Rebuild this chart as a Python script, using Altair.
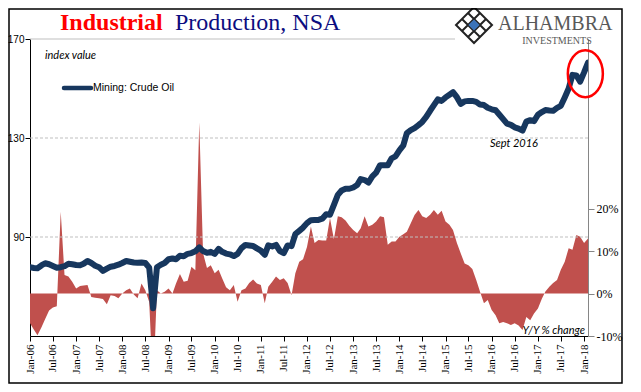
import altair as alt
import pandas as pd

# ---------------- data (monthly, Jan-2006 .. Feb-2018) ----------------
months = [f"{2006 + i // 12}/{i % 12 + 1:02d}/01" for i in range(146)]

crude_oil_index = [
    # 2006
    77.8, 77.5, 77.4, 78.5, 79.4, 79.0, 78.3, 77.6, 77.8, 78.2, 79.2, 79.0,
    # 2007
    78.7, 78.6, 79.2, 80.3, 79.5, 78.4, 77.8, 76.3, 77.2, 78.0, 78.3, 78.8,
    # 2008
    79.5, 80.3, 80.0, 79.7, 79.6, 79.7, 79.5, 77.6, 61.2, 77.8, 78.8, 79.5,
    # 2009
    81.0, 81.3, 81.0, 82.4, 82.2, 83.2, 83.5, 84.2, 85.8, 84.3, 83.6, 84.0,
    # 2010
    83.2, 85.2, 84.0, 83.3, 83.0, 82.3, 83.2, 85.5, 86.8, 86.6, 86.4, 85.4,
    # 2011
    84.5, 82.8, 86.6, 86.2, 86.8, 84.3, 83.5, 86.6, 86.3, 91.2, 92.5, 93.8,
    # 2012
    95.6, 96.8, 96.9, 96.9, 97.4, 99.2, 99.0, 103.0, 107.0, 108.8, 109.5, 109.5,
    # 2013
    110.0, 111.0, 113.4, 113.0, 112.0, 114.5, 116.0, 119.0, 119.0, 119.0, 121.8, 122.6,
    # 2014
    125.0, 127.0, 132.0, 133.2, 134.0, 135.2, 136.5, 138.5, 141.0, 143.3, 145.6, 145.0,
    # 2015
    146.4, 147.5, 148.5, 146.5, 143.8, 144.8, 145.0, 145.0, 144.6, 143.5, 143.3, 142.2,
    # 2016
    141.6, 141.2, 139.5, 137.6, 135.8, 135.3, 134.3, 133.8, 133.0, 136.6, 137.2, 136.8,
    # 2017
    139.4, 140.5, 141.3, 141.1, 141.0, 142.2, 143.0, 146.4, 150.0, 155.5, 155.3, 152.8,
    # 2018
    156.5, 160.5,
]

yoy_pct = [
    # 2006
    -7.0, -8.5, -9.8, -8.0, -6.0, -4.0, -3.3, -3.0, 19.3, 4.4, 4.0, 2.8,
    # 2007
    1.2, 1.8, 1.9, 2.0, -0.8, -1.0, -1.1, -1.3, -2.5, -0.4, -0.6, -1.1,
    # 2008
    0.0, 0.8, 1.2, -0.2, -1.1, 2.4, 0.8, -2.0, -22.0, 0.8, 0.0, 0.4,
    # 2009
    1.2, 0.0, 2.4, 4.6, 2.8, 3.0, 6.3, 5.5, 40.3, 9.5, 6.0, 6.7,
    # 2010
    4.8, 5.6, 3.6, 1.5, 0.8, 2.0, -1.9, 0.8, 1.2, 2.5, 3.3, 2.4,
    # 2011
    2.0, -2.3, 1.6, 2.8, 4.0, 3.2, 3.6, 2.5, -0.4, 4.8, 7.5, 8.1,
    # 2012
    11.0, 15.8, 11.9, 12.6, 12.5, 12.5, 17.8, 12.8, 18.2, 18.0, 17.2, 16.0,
    # 2013
    15.0, 14.2, 15.4, 18.2, 15.8, 16.2, 17.0, 18.2, 18.0, 11.5, 12.3, 12.3,
    # 2014
    13.4, 14.0, 14.6, 16.6, 18.5, 19.7, 18.2, 17.8, 18.6, 19.7, 18.6, 19.5,
    # 2015
    17.0, 16.2, 15.0, 11.9, 9.5, 7.1, 6.7, 5.8, 3.2, 0.4, -2.3, -1.5,
    # 2016
    -3.9, -5.1, -7.0, -6.7, -7.0, -7.4, -7.0, -7.5, -8.6, -5.5, -6.3, -4.7,
    # 2017
    -3.5, -1.2, 0.5, 1.6, 2.5, 3.2, 5.6, 7.5, 10.7, 10.3, 13.8, 13.4,
    # 2018
    11.9, 13.0,
]

left_ticks = [90, 130, 170]
grid_values = [90, 130]
right_ticks = [-10, 0, 10, 20]
x_tick_years = list(range(2006, 2019))

annotations_date = ["2018/01/11", "2016/06/25"]
annotations_value = [156.0, 127.5]

df = pd.DataFrame({"date": months, "index": crude_oil_index, "pct": yoy_pct})

NAVY = "#17375E"
RED_AREA = "#C0504D"

x_ticks = []
for y in x_tick_years:
    x_ticks.append(alt.DateTime(year=y, month=1, date=1))
    if y < 2018:
        x_ticks.append(alt.DateTime(year=y, month=7, date=1))

x_enc = alt.X(
    "date:T",
    title=None,
    scale=alt.Scale(domain=[alt.DateTime(year=2006, month=1, date=1),
                            alt.DateTime(year=2018, month=2, date=1)]),
    axis=alt.Axis(values=x_ticks, format="%b-%y", labelAngle=270,
                  labelFont="Liberation Serif", labelFontSize=11, labelColor="black",
                  labelPadding=3, tickSize=5, tickColor="black", domainColor="black",
                  grid=False, labelOverlap=False, labelFlush=False),
)

left_axis = alt.Axis(orient="left", values=left_ticks, grid=False,
                     labelFont="Liberation Sans", labelFontSize=10, labelColor="black",
                     labelPadding=1, tickSize=5, tickColor="black", domainColor="black")
left_scale = alt.Scale(domain=[50, 170], nice=False, zero=False)

right_axis = alt.Axis(orient="right", values=right_ticks, grid=False,
                      labelExpr="datum.value + '%'",
                      labelFont="Liberation Serif", labelFontSize=12, labelColor="black",
                      labelPadding=2, tickSize=6, tickColor="#868686", domainColor="#868686")
right_scale = alt.Scale(domain=[-10, 60], nice=False, zero=False)

base = alt.Chart(df)

area = base.mark_area(color=RED_AREA, clip=True, opacity=1).encode(
    x=x_enc,
    y=alt.Y("pct:Q", scale=right_scale, axis=right_axis, title=None),
    y2=alt.datum(0),
)
pct_layer = alt.layer(area)

grid_df = pd.DataFrame({"index": grid_values})
grid = alt.Chart(grid_df).mark_rule(color="#bfbfbf", strokeDash=[3, 2], strokeWidth=1).encode(
    y=alt.Y("index:Q", scale=left_scale, axis=left_axis, title=None)
)
top_rule = alt.Chart(pd.DataFrame({"index": [170]})).mark_rule(color="#bfbfbf", strokeWidth=1).encode(
    y=alt.Y("index:Q", scale=left_scale, axis=left_axis, title=None),
    x=alt.value(0), x2=alt.value(425),
)
line = base.mark_line(color=NAVY, strokeWidth=6, clip=True, strokeJoin="round", strokeCap="round").encode(
    x=x_enc,
    y=alt.Y("index:Q", scale=left_scale, axis=left_axis, title=None),
)

ell_df = pd.DataFrame({"date": [annotations_date[0]], "index": [annotations_value[0]]})
ellipse_path = "M-0.745,0A0.745,1 0 1,0 0.745,0A0.745,1 0 1,0 -0.745,0Z"
ellipse = alt.Chart(ell_df).mark_point(shape=ellipse_path, size=2209, filled=False,
                                       stroke="#FF0000", strokeWidth=2.5, opacity=1).encode(
    x=x_enc, y=alt.Y("index:Q", scale=left_scale, axis=left_axis, title=None)
)
sept_df = pd.DataFrame({"date": [annotations_date[1]], "index": [annotations_value[1]], "t": ["Sept 2016"]})
sept = alt.Chart(sept_df).mark_text(font="Lato", fontStyle="italic", fontSize=11, color="black",
                                    baseline="middle", align="center").encode(
    x=x_enc, y=alt.Y("index:Q", scale=left_scale, axis=left_axis, title=None), text="t:N"
)
index_layer = alt.layer(grid, top_rule, line, ellipse, sept)

one = pd.DataFrame({"a": [0]})


def txt(text, x, y, **kw):
    return alt.Chart(one).mark_text(text=text, **kw).encode(x=alt.value(x), y=alt.value(y))


deco = [
    txt("Industrial", 30, -9, font="Liberation Serif", fontSize=24, fontWeight="bold",
        color="#FF0000", align="left", baseline="alphabetic"),
    txt("Production, NSA", 145, -9, font="Liberation Serif", fontSize=24,
        color="#0C0C80", align="left", baseline="alphabetic"),
    txt("ALHAMBRA", 468, -9, font="Liberation Serif", fontSize=20, color="#595959",
        align="left", baseline="alphabetic"),
    txt("INVESTMENTS", 527, 5, font="Liberation Serif", fontSize=10, color="#595959",
        align="center", baseline="alphabetic"),
    txt("index value", 15, 17, font="Lato", fontStyle="italic", fontSize=11, color="black",
        align="left", baseline="middle"),
    txt("Mining: Crude Oil", 63, 49, font="Liberation Sans", fontSize=10.5, color="black",
        align="left", baseline="middle"),
    txt("Y/Y % change", 555, 292, font="Lato", fontStyle="italic", fontSize=11, color="black",
        align="right", baseline="middle"),
    alt.Chart(one).mark_rule(color=NAVY, strokeWidth=4.5, strokeCap="round").encode(
        x=alt.value(34), x2=alt.value(61), y=alt.value(49)),
    alt.Chart(one).mark_point(
        shape="M0,-1L1,0L0,1L-1,0Z M-0.333,-0.667L0.667,0.333 M-0.667,-0.333L0.333,0.667 "
              "M-0.667,0.333L0.333,-0.667 M-0.333,0.667L0.667,-0.333",
        size=1296, filled=False, stroke="#222222", strokeWidth=2, opacity=1).encode(
        x=alt.value(444), y=alt.value(-14)),
    alt.Chart(one).mark_point(shape="diamond", size=70, filled=True, fill="#3B73B9",
                              stroke="#3B73B9", opacity=1).encode(
        x=alt.value(444), y=alt.value(-14)),
    alt.Chart(one).mark_rect(fill="white", fillOpacity=0, stroke="black", strokeWidth=1.5).encode(
        x=alt.value(-21), x2=alt.value(592), y=alt.value(-30), y2=alt.value(344)),
]

chart = alt.layer(pct_layer, index_layer, *deco).resolve_scale(y="independent").properties(
    width=558, height=297,
    autosize=alt.AutoSizeParams(type="none"),
    padding={"left": 22, "top": 31, "right": 36, "bottom": 49},
    background="white",
).configure_view(stroke=None)

chart.save("out.html", embed_options={"renderer": "svg", "actions": False})
